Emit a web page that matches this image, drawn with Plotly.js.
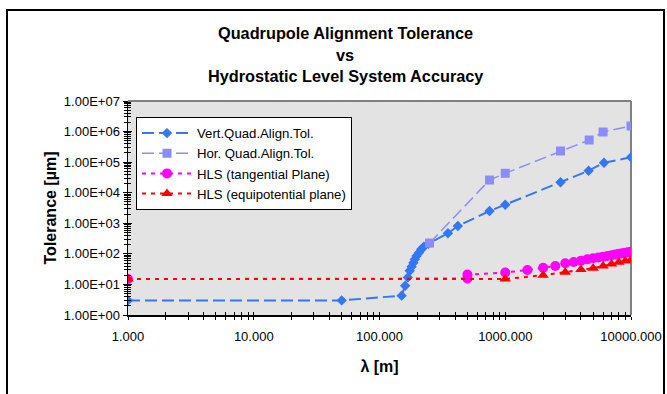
<!DOCTYPE html>
<html>
<head>
<meta charset="utf-8">
<script src="https://cdn.plot.ly/plotly-3.0.1.min.js"></script>
<style>
html,body{margin:0;padding:0;background:#fff;}
#chart{width:667px;height:394px;}
</style>
</head>
<body>
<div id="chart"></div>
<script>
// ---- data ----
const lambdaVert = [1, 50, 150, 160, 168, 174, 180, 186, 191, 197, 206, 215, 225, 245, 350, 420, 750, 1000, 2750, 4600, 6100, 10000];
const tolVert    = [3, 3, 4.3, 9.1, 17, 28, 38, 51, 66, 85, 109, 141, 171, 215, 471, 815, 2520, 4060, 21900, 52500, 96000, 144000];

const lambdaHor = [250, 750, 1000, 2750, 4650, 6000, 10000];
const tolHor    = [225, 26000, 43200, 232000, 530000, 968000, 1520000];

const lambdaTan = [1, 500, 500, 1000, 1500, 2000, 2500, 3000, 3500, 4000, 4500, 5000, 5500, 6000, 6500, 7000, 7500, 8000, 8500, 9000, 9500, 10000];
const tolTan    = [15, 15.6, 21, 24.6, 29.6, 35, 40, 49, 54, 60, 66, 72, 76, 81, 85, 90, 95, 100, 104, 109, 113, 118];

const lambdaEq = [1, 1000, 2000, 3000, 4000, 5000, 6000, 7000, 8000, 9000, 10000];
const tolEq    = [15, 15, 20, 25, 31, 34, 40, 47, 53, 58, 63];

const seriesNames = ["Vert.Quad.Align.Tol.", "Hor. Quad.Align.Tol.", "HLS (tangential Plane)", "HLS (equipotential plane)"];
const xTickVals = [1, 10, 100, 1000, 10000];
const xTickText = ["1.000", "10.000", "100.000", "1000.000", "10000.000"];
const yTickVals = [1, 10, 100, 1000, 10000, 100000, 1000000, 10000000];
const yTickText = ["1.00E+00", "1.00E+01", "1.00E+02", "1.00E+03", "1.00E+04", "1.00E+05", "1.00E+06", "1.00E+07"];
const titleLines = ["Quadrupole Alignment Tolerance", "vs", "Hydrostatic Level System Accuracy"];

const FONT = "Liberation Sans, Arial, sans-serif";

const traces = [
  {x: lambdaVert, y: tolVert, name: seriesNames[0], type: "scatter", mode: "lines+markers",
   legendgroup: "a",
   line: {color: "#3377f5", width: 2, dash: "12px,5px"},
   marker: {symbol: "diamond", size: 8, color: "#3377f5"}},
  {x: lambdaHor, y: tolHor, name: seriesNames[1], type: "scatter", mode: "lines+markers",
   legendgroup: "b",
   line: {color: "#8c8cff", width: 1.5, dash: "12px,5px"},
   marker: {symbol: "square", size: 9, color: "#8c8cff"}},
  {x: lambdaTan, y: tolTan, name: seriesNames[2], type: "scatter", mode: "lines+markers",
   legendgroup: "c",
   line: {color: "#ff00ff", width: 2, dash: "4px,5px"},
   marker: {symbol: "circle", size: 10, color: "#ff00ff"}},
  {x: lambdaEq, y: tolEq, name: seriesNames[3], type: "scatter", mode: "lines+markers",
   legendgroup: "d",
   line: {color: "#ff0000", width: 2, dash: "4px,5px"},
   marker: {symbol: "triangle-up", size: 10, color: "#ff0000"}},
  {x: [], y: [], xaxis: "x2", yaxis: "y2", showlegend: false, hoverinfo: "skip", type: "scatter"}
];

// paper helpers: plot area is x 128..631, y 101..315 in pixels
const L = 128, R = 631, T = 101, B = 315;
const px = v => (v - L) / (R - L);
const py = v => (B - v) / (B - T);

const annotations = titleLines.map((t, i) => ({
  text: "<b>" + t + "</b>", xref: "paper", yref: "paper",
  x: px(345), y: py([33, 55, 76][i]), xanchor: "center", yanchor: "middle",
  showarrow: false, font: {family: FONT, size: 16.3, color: "#000"}
}));

const layout = {
  width: 667, height: 394,
  margin: {l: L, r: 667 - R, t: T, b: 394 - B},
  paper_bgcolor: "#ffffff",
  plot_bgcolor: "#e3e3e3",
  font: {family: FONT, size: 13, color: "#000"},
  showlegend: true,
  legend: {
    x: px(136), y: py(117), xanchor: "left", yanchor: "top",
    bgcolor: "#ffffff", bordercolor: "#000000", borderwidth: 1,
    font: {family: FONT, size: 13.2, color: "#000"},
    itemwidth: 50, traceorder: "grouped", tracegroupgap: 0,
    itemclick: false
  },
  xaxis: {
    type: "log", range: [0, 4],
    tickmode: "array", tickvals: xTickVals, ticktext: xTickText,
    ticks: "outside", ticklen: 3, tickcolor: "#000", tickwidth: 1,
    ticklabelstandoff: 6,
    minor: {tickmode: "linear", dtick: "D1", ticks: "outside", ticklen: 3, tickcolor: "#000", tickwidth: 1, showgrid: false},
    showgrid: false, zeroline: false,
    showline: true, linecolor: "#000", linewidth: 1.5,
    tickfont: {family: FONT, size: 13},
    title: {text: "<b>λ [m]</b>", font: {family: FONT, size: 16}, standoff: 17},
    fixedrange: true
  },
  yaxis: {
    type: "log", range: [0, 7],
    tickmode: "array", tickvals: yTickVals, ticktext: yTickText,
    ticks: "outside", ticklen: 4, tickcolor: "#000", tickwidth: 1,
    minor: {tickmode: "linear", dtick: "D1", ticks: "outside", ticklen: 3, tickcolor: "#000", tickwidth: 1, showgrid: false},
    showgrid: false, zeroline: false,
    showline: true, linecolor: "#000", linewidth: 1.5,
    tickfont: {family: FONT, size: 13},
    title: {text: "<b>Tolerance [µm]</b>", font: {family: FONT, size: 16}, standoff: 3},
    fixedrange: true
  },
  xaxis2: {
    type: "log", range: [0, 4], overlaying: "x", side: "bottom",
    tickmode: "array", tickvals: xTickVals, ticks: "inside", ticklen: 3, tickcolor: "#000",
    minor: {tickmode: "linear", dtick: "D1", ticks: "inside", ticklen: 3, tickcolor: "#000", showgrid: false},
    showticklabels: false, showgrid: false, zeroline: false, showline: false, fixedrange: true
  },
  yaxis2: {
    type: "log", range: [0, 7], overlaying: "y", side: "left",
    tickmode: "array", tickvals: yTickVals, ticks: "inside", ticklen: 4, tickcolor: "#000",
    minor: {tickmode: "linear", dtick: "D1", ticks: "inside", ticklen: 3, tickcolor: "#000", showgrid: false},
    showticklabels: false, showgrid: false, zeroline: false, showline: false, fixedrange: true
  },
  shapes: [
    {type: "line", xref: "paper", yref: "paper", x0: 0, x1: 1, y0: 1, y1: 1, line: {color: "#808080", width: 2}, layer: "below"},
    {type: "line", xref: "paper", yref: "paper", x0: 1, x1: 1, y0: 0, y1: 1, line: {color: "#808080", width: 2}, layer: "below"},
    {type: "rect", xref: "paper", yref: "paper", x0: px(7), x1: px(664), y0: py(10), y1: py(400), line: {color: "#000", width: 2}, fillcolor: "rgba(0,0,0,0)", layer: "above"}
  ],
  annotations: annotations
};

Plotly.newPlot("chart", traces, layout, {staticPlot: true, displayModeBar: false});
</script>
</body>
</html>
